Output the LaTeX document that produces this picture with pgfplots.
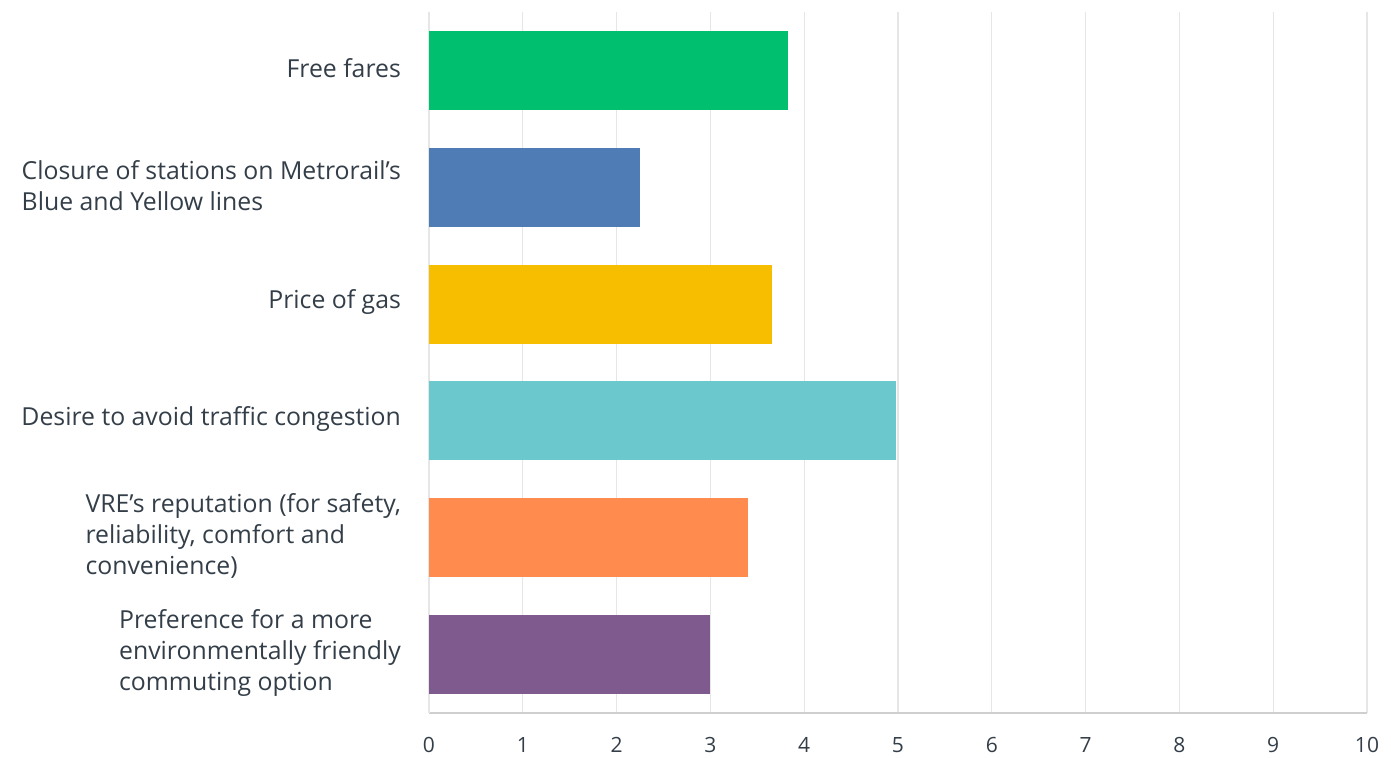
\documentclass[border=0pt]{standalone}
\usepackage{pgfplots}
\pgfplotsset{compat=1.18}
\usepackage{fontspec}
\setmainfont{Open Sans}
\definecolor{txt}{HTML}{333E48}
\definecolor{gridc}{HTML}{E6E6E6}
\definecolor{axc}{HTML}{CFCFCF}
\definecolor{cGreen}{HTML}{00BF6F}
\definecolor{cBlue}{HTML}{507CB6}
\definecolor{cYellow}{HTML}{F7BE00}
\definecolor{cTeal}{HTML}{6BC8CD}
\definecolor{cOrange}{HTML}{FF8B4F}
\definecolor{cPurple}{HTML}{7F5A8F}
\begin{document}
\begin{tikzpicture}
\path[use as bounding box] (-214.5pt,-22pt) rectangle (481pt,356.5pt);
\begin{axis}[
    at={(0pt,0pt)}, anchor=south west,
    scale only axis,
    width=469pt, height=350.5pt,
    xmin=0, xmax=10,
    ymin=-0.5, ymax=5.5,
    y dir=reverse,
    xbar, bar shift=0pt, bar width=39.5pt,
    axis x line*=bottom,
    axis y line*=left,
    x axis line style={axc, line width=0.9pt},
    y axis line style={gridc, line width=0.6pt},
    xtick={0,...,10},
    major tick length=0pt,
    xmajorgrids,
    grid style={gridc, line width=0.6pt},
    ytick={0,...,5},
    yticklabels={
        {Free fares},
        {Closure of stations on Metrorail’s\\Blue and Yellow lines},
        {Price of gas},
        {Desire to avoid traffic congestion},
        {VRE’s reputation (for safety,\\reliability, comfort and\\convenience)},
        {Preference for a more\\environmentally friendly\\commuting option}
    },
    yticklabel style={align=left, anchor=east, xshift=-10.5pt, yshift=1pt, text=txt,
        font=\fontsize{12.4}{15.5}\selectfont},
    xticklabel style={yshift=-8.5pt, text=txt, font=\fontsize{10.5}{12}\selectfont},
    /pgf/number format/assume math mode=true,
    clip=false,
]
\addplot[fill=cGreen, draw=none] coordinates {(3.83,0)};
\addplot[fill=cBlue, draw=none] coordinates {(2.25,1)};
\addplot[fill=cYellow, draw=none] coordinates {(3.66,2)};
\addplot[fill=cTeal, draw=none] coordinates {(4.98,3)};
\addplot[fill=cOrange, draw=none] coordinates {(3.40,4)};
\addplot[fill=cPurple, draw=none] coordinates {(3.00,5)};
\end{axis}
\end{tikzpicture}
\end{document}
